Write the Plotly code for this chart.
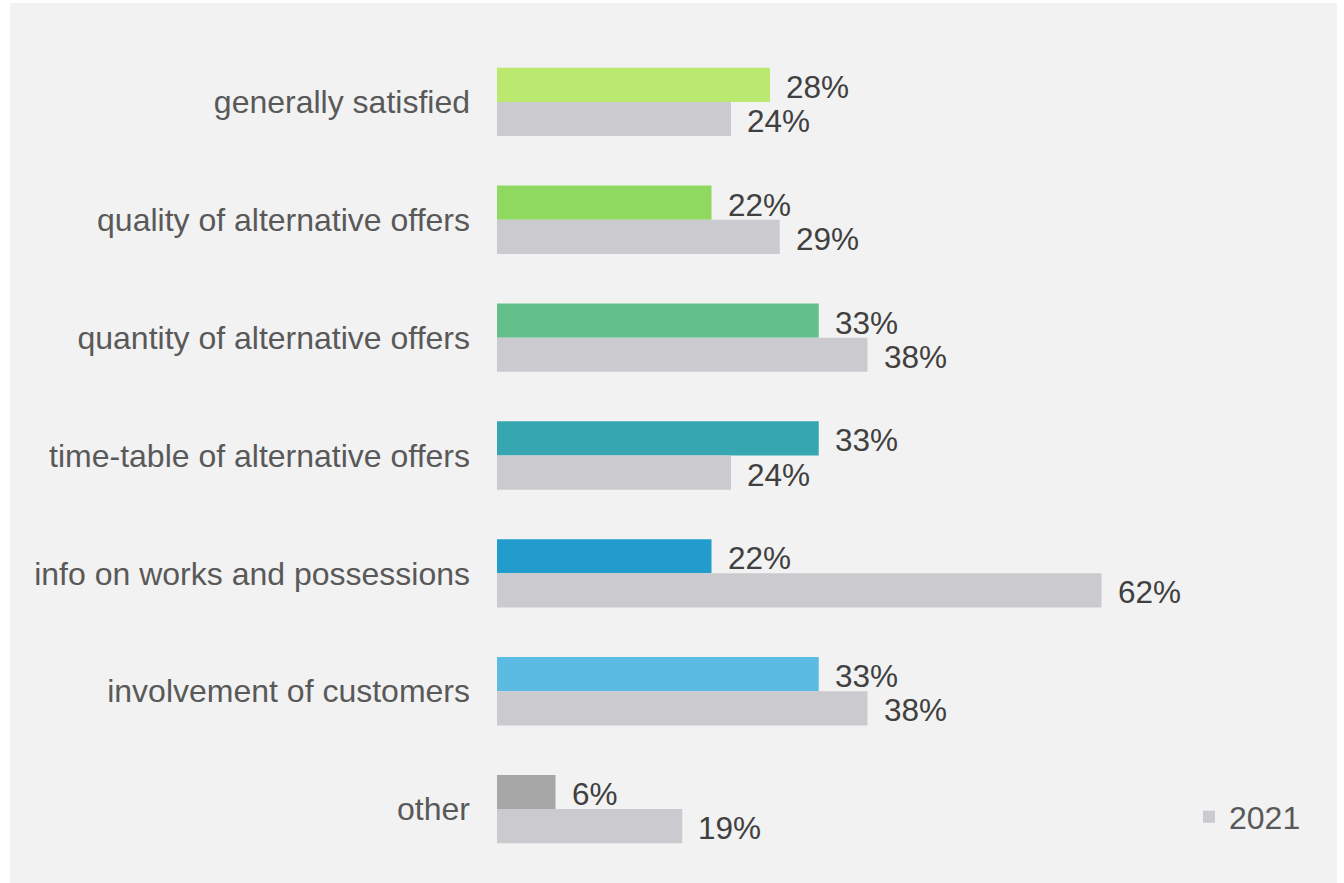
import plotly.graph_objects as go

# Survey categories, top to bottom
categories = [
    "generally satisfied",
    "quality of alternative offers",
    "quantity of alternative offers",
    "time-table of alternative offers",
    "info on works and possessions",
    "involvement of customers",
    "other",
]
values_current = [28, 22, 33, 33, 22, 33, 6]
values_2021 = [24, 29, 38, 24, 62, 38, 19]
current_colors = ["#bbe86f", "#8fd961", "#63c08a", "#36a7b1", "#229ccc", "#5bbbe3", "#a6a6a6"]
color_2021 = "#cbcace"

FONT = "Liberation Sans, Arial, sans-serif"
FS_LABEL = 32
FS_VALUE = 31.5
W, H = 1344, 883
L, R, T, B = 497, 67, 43, 15
BARGAP = 0.42

fig = go.Figure()
fig.add_trace(go.Bar(
    y=categories, x=values_current, orientation="h", name="2022",
    marker=dict(color=current_colors, line=dict(width=0)),
    showlegend=False, hoverinfo="x+y",
))
fig.add_trace(go.Bar(
    y=categories, x=values_2021, orientation="h", name="2021",
    marker=dict(color=color_2021, line=dict(width=0)),
    hoverinfo="x+y",
))

# value labels placed just past the end of each bar
half = (1 - BARGAP) / 4
for i, (a, b) in enumerate(zip(values_current, values_2021)):
    for val, yy in ((a, i - half), (b, i + half)):
        fig.add_annotation(
            x=val, y=yy, xref="x", yref="y", text=f"{val}%",
            showarrow=False, xanchor="left", yanchor="middle",
            xshift=14, yshift=-2,
            font=dict(family=FONT, size=FS_VALUE, color="#404040"),
        )

# grey panel with a thin white frame around it
pw, ph = W - L - R, H - T - B
fig.add_shape(
    type="rect", xref="paper", yref="paper", layer="below",
    x0=(10 - L) / pw, x1=(1337 - L) / pw,
    y0=(H - B - 883) / ph, y1=(H - B - 3) / ph,
    fillcolor="#f2f2f2", line=dict(width=0),
)

fig.update_layout(
    width=W, height=H,
    margin=dict(l=L, r=R, t=T, b=B),
    paper_bgcolor="white", plot_bgcolor="rgba(0,0,0,0)",
    barmode="group", bargap=BARGAP, bargroupgap=0,
    font=dict(family=FONT, size=FS_LABEL, color="#595959"),
    xaxis=dict(range=[0, 80], visible=False, fixedrange=True),
    yaxis=dict(
        autorange="reversed", showgrid=False, zeroline=False, showline=False,
        ticks="", ticklabelstandoff=26,
        tickfont=dict(family=FONT, size=FS_LABEL, color="#595959"),
    ),
    legend=dict(
        x=(1189 - L) / pw, xanchor="left",
        y=(H - B - 817) / ph, yanchor="middle",
        bgcolor="rgba(0,0,0,0)",
        font=dict(family=FONT, size=FS_LABEL, color="#595959"),
    ),
)

fig.write_html("out.html")
